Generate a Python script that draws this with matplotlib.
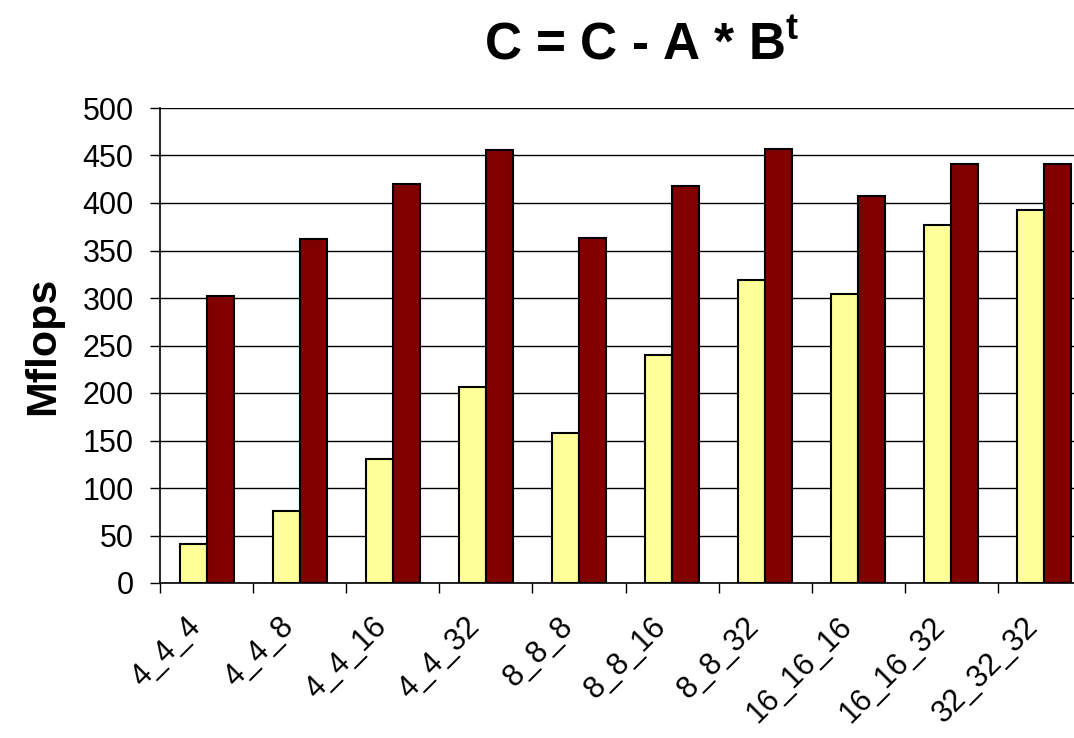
import numpy as np
import matplotlib
matplotlib.use("Agg")
import matplotlib.pyplot as plt

plt.rcParams['font.family'] = ['Liberation Sans', 'DejaVu Sans']
plt.rcParams['mathtext.fontset'] = 'custom'
plt.rcParams['mathtext.bf'] = 'Liberation Sans:bold'
plt.rcParams['mathtext.rm'] = 'Liberation Sans'

blocks = ["4_4_4", "4_4_8", "4_4_16", "4_4_32", "8_8_8",
          "8_8_16", "8_8_32", "16_16_16", "16_16_32", "32_32_32"]
plain = [41, 76, 131, 206, 158, 240, 319, 304, 377, 393]
tuned = [302, 362, 420, 456, 363, 418, 457, 407, 441, 441]

fig = plt.figure(figsize=(10.74, 7.38), dpi=100)
ax = fig.add_axes([160/1074, 1-583/738, (1091-160)/1074, 475/738])

x = np.arange(len(blocks))
w = 0.29
ax.bar(x - w/2, plain, w, color="#FFFF99", edgecolor="black", linewidth=1.5, zorder=3)
ax.bar(x + w/2, tuned, w, color="#800000", edgecolor="black", linewidth=1.5, zorder=3)

ax.set_ylim(0, 500)
ax.set_xlim(-0.5, len(blocks) - 0.5)
ax.set_yticks(np.arange(0, 501, 50))
ax.yaxis.grid(True, color="black", linewidth=1, zorder=0)

# tick marks on category boundaries, labels on category centres
ax.set_xticks(np.arange(-0.5, len(blocks) + 0.5, 1))
ax.set_xticklabels([])
ax.set_xticks(x, minor=True)
ax.set_xticklabels(blocks, minor=True, rotation=45, ha="right", va="bottom",
                   rotation_mode="anchor", fontsize=22)
ax.tick_params(axis="x", which="minor", length=0, pad=36)
ax.tick_params(axis="x", which="major", length=7, width=1, direction="out")
ax.tick_params(axis="y", length=7, width=1, direction="out", labelsize=22, pad=12)

for s in ["top", "right"]:
    ax.spines[s].set_visible(False)
ax.spines["left"].set_linewidth(1.2)
ax.spines["bottom"].set_linewidth(1.2)

ax.set_ylabel("Mflops", fontsize=31, fontweight="bold", va="center")
ax.yaxis.set_label_coords(-0.126, 0.5)
fig.text(0.597, 0.921, r"C = C - A * B$^{\mathbf{t}}$", fontsize=37,
         fontweight="bold", ha="center", va="baseline")

fig.savefig("out.png", dpi=100)
